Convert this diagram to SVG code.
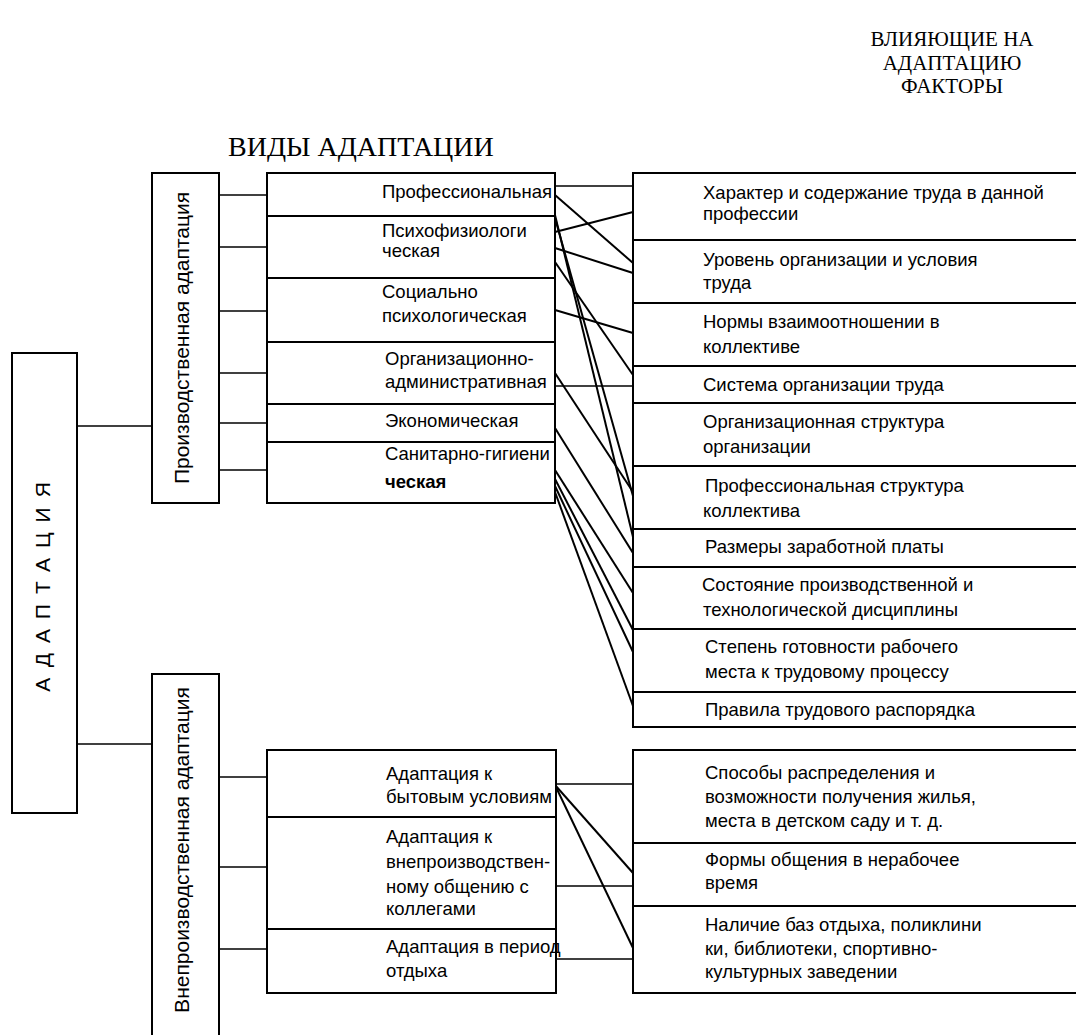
<svg xmlns="http://www.w3.org/2000/svg" width="1076" height="1035" viewBox="0 0 1076 1035">
<style>
.box{fill:#fff;stroke:#000;stroke-width:2}
.t{font-family:"Liberation Sans",Arial,sans-serif;font-size:18.5px;fill:#000}
.v{font-family:"Liberation Sans",Arial,sans-serif;font-size:21px;fill:#000}
.h{font-family:"Liberation Serif","Times New Roman",serif;fill:#000}
.c{stroke:#000;stroke-width:1.5;fill:none}
.x{stroke:#000;stroke-width:2;fill:none}
</style>
<rect width="1076" height="1035" fill="#fff"/>
<g id="headings">
<text class="h" x="952" y="46" text-anchor="middle" font-size="21">ВЛИЯЮЩИЕ НА</text>
<text class="h" x="952" y="70" text-anchor="middle" font-size="21">АДАПТАЦИЮ</text>
<text class="h" x="952" y="93" text-anchor="middle" font-size="21">ФАКТОРЫ</text>
<text class="h" x="228" y="156" font-size="28">ВИДЫ АДАПТАЦИИ</text>
</g>
<g id="connectors">
<line class="c" x1="77" y1="426" x2="152" y2="426"/>
<line class="c" x1="77" y1="744" x2="152" y2="744"/>
<line class="c" x1="219" y1="195" x2="267" y2="195"/>
<line class="c" x1="219" y1="247" x2="267" y2="247"/>
<line class="c" x1="219" y1="311" x2="267" y2="311"/>
<line class="c" x1="219" y1="373" x2="267" y2="373"/>
<line class="c" x1="219" y1="423" x2="267" y2="423"/>
<line class="c" x1="219" y1="470" x2="267" y2="470"/>
<line class="c" x1="219" y1="777" x2="267" y2="777"/>
<line class="c" x1="219" y1="867" x2="267" y2="867"/>
<line class="c" x1="219" y1="949" x2="267" y2="949"/>
<line class="c" x1="555" y1="186" x2="633" y2="186"/>
<line class="x" x1="555" y1="195" x2="633" y2="263"/>
<line class="x" x1="555" y1="215" x2="633" y2="537"/>
<line class="x" x1="555" y1="218" x2="633" y2="496"/>
<line class="x" x1="555" y1="232" x2="633" y2="212"/>
<line class="x" x1="555" y1="248" x2="633" y2="273"/>
<line class="x" x1="555" y1="262" x2="633" y2="375"/>
<line class="x" x1="555" y1="310" x2="633" y2="333"/>
<line class="c" x1="555" y1="386" x2="633" y2="386"/>
<line class="x" x1="555" y1="373" x2="633" y2="492"/>
<line class="x" x1="555" y1="428" x2="633" y2="553"/>
<line class="x" x1="555" y1="470" x2="633" y2="593"/>
<line class="x" x1="555" y1="479" x2="633" y2="630"/>
<line class="x" x1="555" y1="486" x2="633" y2="652"/>
<line class="x" x1="555" y1="492" x2="633" y2="706"/>
<line class="c" x1="555" y1="784" x2="633" y2="784"/>
<line class="x" x1="555" y1="785" x2="633" y2="873"/>
<line class="x" x1="555" y1="785" x2="633" y2="948"/>
<line class="c" x1="555" y1="886" x2="633" y2="886"/>
<line class="c" x1="555" y1="959" x2="633" y2="959"/>
</g>
<g id="adaptation">
<rect class="box" x="12" y="353" width="65" height="460"/>
<text class="v" transform="translate(50,582) rotate(-90)" text-anchor="middle" font-size="22" letter-spacing="10">АДАПТАЦИЯ</text>
</g>
<g id="production">
<rect class="box" x="152" y="173" width="67" height="330"/>
<text class="v" transform="translate(189,338) rotate(-90)" text-anchor="middle">Производственная адаптация</text>
</g>
<g id="nonproduction">
<rect class="box" x="152" y="674" width="67" height="380"/>
<text class="v" transform="translate(189,850) rotate(-90)" text-anchor="middle">Внепроизводственная адаптация</text>
</g>
<g id="type-professional"><rect class="box" x="267" y="173" width="288" height="43"/><text class="t" x="382" y="198">Профессиональная</text></g>
<g id="type-psychophysiological"><rect class="box" x="267" y="216" width="288" height="62"/><text class="t" x="382" y="237">Психофизиологи</text><text class="t" x="382" y="257">ческая</text></g>
<g id="type-sociopsychological"><rect class="box" x="267" y="278" width="288" height="64"/><text class="t" x="382" y="298">Социально</text><text class="t" x="382" y="322">психологическая</text></g>
<g id="type-organizational"><rect class="box" x="267" y="342" width="288" height="62"/><text class="t" x="385" y="365">Организационно-</text><text class="t" x="385" y="388">административная</text></g>
<g id="type-economic"><rect class="box" x="267" y="404" width="288" height="38"/><text class="t" x="385" y="427">Экономическая</text></g>
<g id="type-sanitary"><rect class="box" x="267" y="442" width="288" height="61"/><text class="t" x="385" y="460">Санитарно-гигиени</text><text class="t" x="385" y="488" font-weight="bold">ческая</text></g>
<g id="type-household"><rect class="box" x="267" y="750" width="289" height="67"/><text class="t" x="386" y="780">Адаптация к</text><text class="t" x="386" y="803">бытовым условиям</text></g>
<g id="type-communication"><rect class="box" x="267" y="817" width="289" height="112"/><text class="t" x="386" y="843">Адаптация к</text><text class="t" x="386" y="868">внепроизводствен-</text><text class="t" x="386" y="893">ному общению с</text><text class="t" x="386" y="915">коллегами</text></g>
<g id="type-rest"><rect class="box" x="267" y="929" width="289" height="64"/><text class="t" x="386" y="953">Адаптация в период</text><text class="t" x="386" y="977">отдыха</text></g>
<g id="factor-1"><rect class="box" x="633" y="173" width="460" height="67"/><text class="t" x="703" y="199">Характер и содержание труда в данной</text><text class="t" x="703" y="220">профессии</text></g>
<g id="factor-2"><rect class="box" x="633" y="240" width="460" height="63"/><text class="t" x="703" y="266">Уровень организации и условия</text><text class="t" x="703" y="289">труда</text></g>
<g id="factor-3"><rect class="box" x="633" y="303" width="460" height="63"/><text class="t" x="703" y="328">Нормы взаимоотношении в</text><text class="t" x="703" y="353">коллективе</text></g>
<g id="factor-4"><rect class="box" x="633" y="366" width="460" height="37"/><text class="t" x="703" y="391">Система организации труда</text></g>
<g id="factor-5"><rect class="box" x="633" y="403" width="460" height="63"/><text class="t" x="703" y="428">Организационная структура</text><text class="t" x="703" y="453">организации</text></g>
<g id="factor-6"><rect class="box" x="633" y="466" width="460" height="63"/><text class="t" x="705" y="492">Профессиональная структура</text><text class="t" x="703" y="517">коллектива</text></g>
<g id="factor-7"><rect class="box" x="633" y="529" width="460" height="38"/><text class="t" x="705" y="553">Размеры заработной платы</text></g>
<g id="factor-8"><rect class="box" x="633" y="567" width="460" height="62"/><text class="t" x="702" y="591">Состояние производственной и</text><text class="t" x="703" y="616">технологической дисциплины</text></g>
<g id="factor-9"><rect class="box" x="633" y="629" width="460" height="63"/><text class="t" x="705" y="653">Степень готовности рабочего</text><text class="t" x="705" y="678">места к трудовому процессу</text></g>
<g id="factor-10"><rect class="box" x="633" y="692" width="460" height="35"/><text class="t" x="705" y="716">Правила трудового распорядка</text></g>
<g id="factor-11"><rect class="box" x="633" y="750" width="460" height="93"/><text class="t" x="705" y="779">Способы распределения и</text><text class="t" x="705" y="803">возможности получения жилья,</text><text class="t" x="705" y="827">места в детском саду и т. д.</text></g>
<g id="factor-12"><rect class="box" x="633" y="843" width="460" height="63"/><text class="t" x="705" y="866">Формы общения в нерабочее</text><text class="t" x="705" y="889">время</text></g>
<g id="factor-13"><rect class="box" x="633" y="906" width="460" height="87"/><text class="t" x="705" y="931">Наличие баз отдыха, поликлини</text><text class="t" x="705" y="955">ки, библиотеки, спортивно-</text><text class="t" x="705" y="978">культурных заведении</text></g>
</svg>
